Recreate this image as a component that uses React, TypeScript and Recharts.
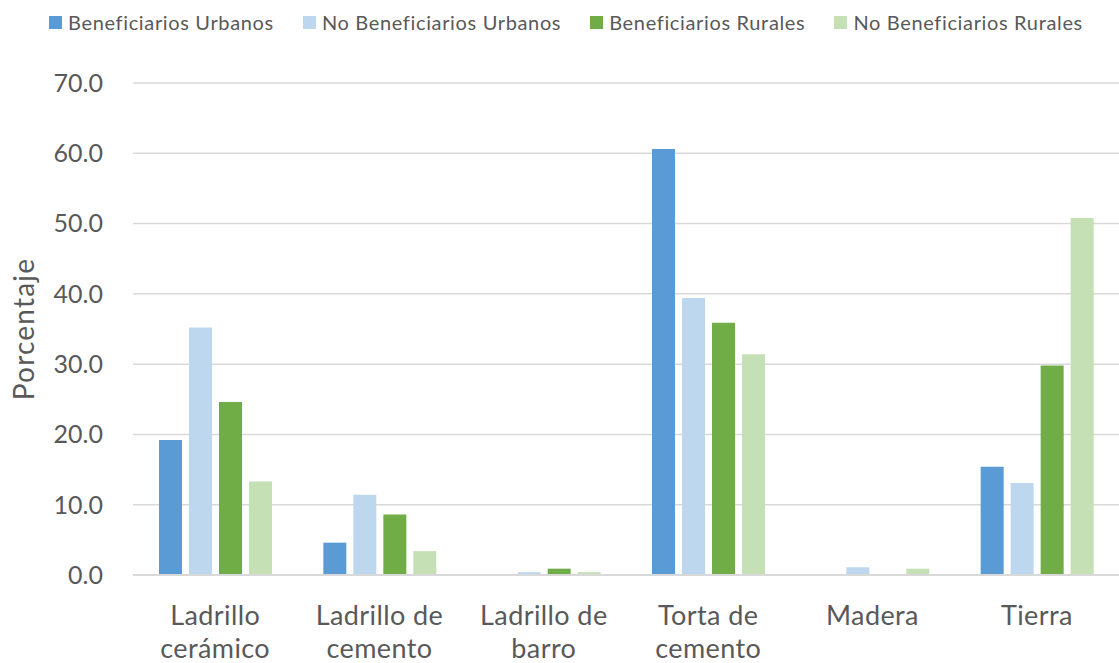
import { BarChart, Bar, XAxis, YAxis, CartesianGrid, Label } from "recharts";

// Materiales de paredes (porcentaje de hogares)
const categories = [
  "Ladrillo cerámico",
  "Ladrillo de cemento",
  "Ladrillo de barro",
  "Torta de cemento",
  "Madera",
  "Tierra",
];

const categoryLines = [
  ["Ladrillo", "cerámico"],
  ["Ladrillo de", "cemento"],
  ["Ladrillo de", "barro"],
  ["Torta de", "cemento"],
  ["Madera"],
  ["Tierra"],
];

const beneficiariosUrbanos = [19.2, 4.6, 0.0, 60.6, 0.0, 15.4];
const noBeneficiariosUrbanos = [35.2, 11.4, 0.4, 39.4, 1.1, 13.1];
const beneficiariosRurales = [24.6, 8.6, 0.9, 35.9, 0.0, 29.8];
const noBeneficiariosRurales = [13.3, 3.4, 0.4, 31.4, 0.9, 50.8];

const yTicks = [0, 10, 20, 30, 40, 50, 60, 70];

const SERIES = [
  { key: "bu", name: "Beneficiarios Urbanos", color: "#5B9BD5", values: beneficiariosUrbanos },
  { key: "nbu", name: "No Beneficiarios Urbanos", color: "#BDD7EE", values: noBeneficiariosUrbanos },
  { key: "br", name: "Beneficiarios Rurales", color: "#70AD47", values: beneficiariosRurales },
  { key: "nbr", name: "No Beneficiarios Rurales", color: "#C5E0B4", values: noBeneficiariosRurales },
];

const data = categories.map((name, i) => {
  const row: Record<string, any> = { name };
  SERIES.forEach((s) => {
    row[s.key] = s.values[i];
  });
  return row;
});

const FONT = "Lato, 'Open Sans', sans-serif";
const TEXT = "#595959";

const CategoryTick = ({ x, y, index }: any) => {
  const lines = categoryLines[index] || [];
  return (
    <text
      x={x}
      y={y}
      textAnchor="middle"
      fill={TEXT}
      fontSize={27}
      fontFamily={FONT}
      letterSpacing={0.4}
    >
      {lines.map((l, i) => (
        <tspan key={i} x={x} y={y + 48 + i * 33}>
          {l}
        </tspan>
      ))}
    </text>
  );
};

const LegendRow = () => (
  <div
    style={{
      position: "absolute",
      top: 10,
      left: 49,
      display: "flex",
      fontFamily: FONT,
      fontSize: 20,
      color: TEXT,
    }}
  >
    {SERIES.map((s, i) => (
      <div
        key={s.key}
        style={{ display: "flex", alignItems: "center", gap: 6, marginLeft: i === 0 ? 0 : 29 }}
      >
        <span style={{ width: 13, height: 13, background: s.color, display: "inline-block" }} />
        <span style={{ letterSpacing: 0.65, whiteSpace: "nowrap" }}>{s.name}</span>
      </div>
    ))}
  </div>
);

export default function App() {
  return (
    <div style={{ position: "absolute", left: 0, top: 0, width: 1119, height: 663, background: "#fff" }}>
      <LegendRow />
      <BarChart
        width={1119}
        height={663}
        data={data}
        margin={{ top: 83, right: 0, bottom: 0, left: 0 }}
        barSize={23}
        barGap={7}
      >
        <CartesianGrid vertical={false} stroke="#D9D9D9" strokeWidth={1.5} />
        <XAxis
          dataKey="name"
          height={88}
          tick={<CategoryTick />}
          tickLine={false}
          tickSize={0}
          interval={0}
          stroke="#D9D9D9"
          strokeWidth={2}
        />
        <YAxis
          width={133}
          domain={[0, 70]}
          ticks={yTicks}
          axisLine={false}
          tickLine={false}
          tickSize={0}
          tickMargin={30}
          tickFormatter={(v: number) => v.toFixed(1)}
          tick={{ fill: TEXT, fontSize: 25, fontFamily: FONT }}
        >
          <Label
            value="Porcentaje"
            angle={-90}
            position="center"
            dx={-42}
            style={{ fill: TEXT, fontSize: 28, fontFamily: FONT, textAnchor: "middle", letterSpacing: 1.2 }}
          />
        </YAxis>
        {SERIES.map((s) => (
          <Bar key={s.key} dataKey={s.key} name={s.name} fill={s.color} isAnimationActive={false} />
        ))}
      </BarChart>
    </div>
  );
}
